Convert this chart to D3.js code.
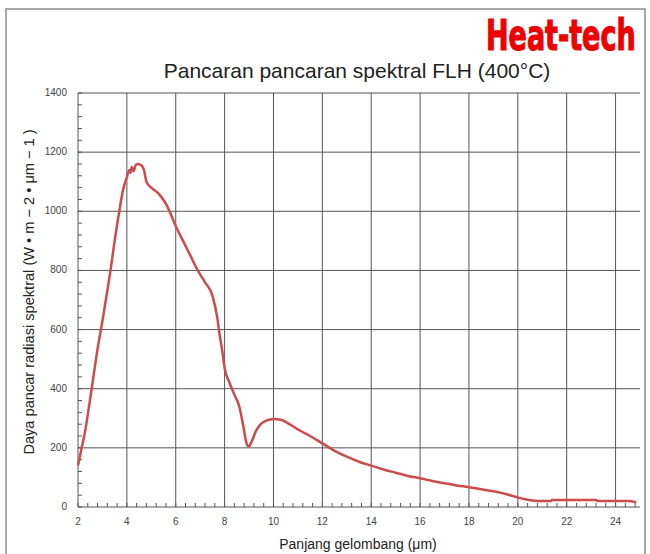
<!DOCTYPE html>
<html>
<head>
<meta charset="utf-8">
<script src="https://cdn.jsdelivr.net/npm/d3@7"></script>
<style>
  body { margin: 0; background: #fff; }
  svg { display: block; font-family: "Liberation Sans", Arial, sans-serif; }
</style>
</head>
<body>
<div id="chart"></div>
<script>
// wavelength (µm) and spectral radiance
const wavelength = [2.0, 2.15, 2.3, 2.45, 2.56, 2.7, 2.85, 2.94, 3.1, 3.33, 3.5, 3.69, 3.85, 4.0,
    4.1, 4.15, 4.2, 4.28, 4.35, 4.45, 4.6, 4.7, 4.8, 5.0, 5.3, 5.6, 5.8, 6.0, 6.3, 6.6, 6.9,
    7.2, 7.5, 7.7, 7.8, 7.9, 8.0, 8.2, 8.4, 8.6, 8.75, 8.9, 9.0, 9.1, 9.3, 9.5, 9.7, 10.0,
    10.3, 10.7, 11.0, 11.5, 12.0, 12.5, 13.0, 13.5, 14.0, 14.5, 15.0, 15.5, 16.0, 16.5, 17.0,
    17.5, 18.0, 18.5, 19.0, 19.5, 20.0, 20.3, 20.6, 21.0, 21.35, 21.4, 23.2, 23.25, 24.5, 24.85];
const radiance = [140, 200, 260, 340, 400, 480, 560, 600, 680, 800, 900, 1000, 1075, 1115,
    1140, 1130, 1150, 1135, 1155, 1160, 1155, 1140, 1100, 1080, 1060, 1025, 990, 950, 900, 850, 800,
    760, 715, 640, 580, 530, 470, 420, 380, 340, 280, 215, 205, 220, 260, 282, 292, 298,
    295, 278, 262, 240, 215, 190, 170, 153, 140, 127, 116, 105, 97, 88, 80,
    73, 67, 60, 53, 44, 32, 26, 22, 20, 20, 24, 24, 20, 20, 16];

const xTicks = [2, 4, 6, 8, 10, 12, 14, 16, 18, 20, 22, 24];
const yTicks = [0, 200, 400, 600, 800, 1000, 1200, 1400];

const chartTitle = "Pancaran pancaran spektral FLH (400°C)";
const xLabel = "Panjang gelombang (μm)";
const yLabel = "Daya pancar radiasi spektral (W • m − 2 • μm − 1 )";

const W = 650, H = 554;
const margin = {top: 93, right: 10, bottom: 47, left: 78};
const width = W - margin.left - margin.right;
const height = H - margin.top - margin.bottom;

const svg = d3.select("#chart").append("svg")
    .attr("width", W)
    .attr("height", H);

// outer frame
svg.append("rect")
    .attr("x", 6).attr("y", 9)
    .attr("width", 639).attr("height", 560)
    .attr("fill", "none")
    .attr("stroke", "#8a8a8a")
    .attr("stroke-width", 1.5);

// logo (narrow font stretched vertically)
svg.append("text")
    .attr("transform", "translate(486,50) scale(1,1.4)")
    .attr("font-family", "'Liberation Sans Narrow', 'DejaVu Sans Condensed', sans-serif")
    .attr("font-weight", "bold")
    .attr("font-size", 30)
    .attr("fill", "#ee0000")
    .attr("stroke", "#ee0000")
    .attr("stroke-width", 0.8)
    .text("Heat-tech");

svg.append("text")
    .attr("x", 357).attr("y", 78)
    .attr("text-anchor", "middle")
    .attr("font-size", 21)
    .attr("fill", "#222")
    .text(chartTitle);

const g = svg.append("g")
    .attr("transform", "translate(" + margin.left + "," + margin.top + ")");

const x = d3.scaleLinear().domain([2, 25]).range([0, width]);
const y = d3.scaleLinear().domain([0, 1400]).range([height, 0]);

// grid
g.selectAll(".hgrid").data(yTicks).enter().append("line")
    .attr("x1", 0).attr("x2", width)
    .attr("y1", d => y(d)).attr("y2", d => y(d))
    .attr("stroke", "#555").attr("stroke-width", 1);

g.selectAll(".vgrid").data(xTicks).enter().append("line")
    .attr("x1", d => x(d)).attr("x2", d => x(d))
    .attr("y1", 0).attr("y2", height)
    .attr("stroke", "#555").attr("stroke-width", 1);

// minor ticks
const yMinor = d3.range(0, 1401, 40);
g.selectAll(".ymin").data(yMinor).enter().append("line")
    .attr("x1", 0).attr("x2", 4)
    .attr("y1", d => y(d)).attr("y2", d => y(d))
    .attr("stroke", "#555");

const xMinor = d3.range(0, 58).map(i => 2 + i * 0.4);
g.selectAll(".xmin").data(xMinor).enter().append("line")
    .attr("x1", d => x(d)).attr("x2", d => x(d))
    .attr("y1", height).attr("y2", height - 4)
    .attr("stroke", "#555");

// tick labels
g.selectAll(".ylab").data(yTicks).enter().append("text")
    .attr("x", -11).attr("y", d => y(d) + 3)
    .attr("text-anchor", "end")
    .attr("font-size", 10)
    .attr("fill", "#444")
    .text(d => d);

g.selectAll(".xlab").data(xTicks).enter().append("text")
    .attr("x", d => x(d)).attr("y", height + 18)
    .attr("text-anchor", "middle")
    .attr("font-size", 10)
    .attr("fill", "#444")
    .text(d => d);

// axis titles
svg.append("text")
    .attr("x", 358).attr("y", 549)
    .attr("text-anchor", "middle")
    .attr("font-size", 14)
    .attr("fill", "#222")
    .text(xLabel);

svg.append("text")
    .attr("transform", "translate(34," + 292 + ") rotate(-90)")
    .attr("text-anchor", "middle")
    .attr("font-size", 14.6)
    .attr("fill", "#222")
    .text(yLabel);

// curve
const line = d3.line()
    .x((d, i) => x(wavelength[i]))
    .y(d => y(d))
    .curve(d3.curveMonotoneX);

g.append("path")
    .datum(radiance)
    .attr("d", line)
    .attr("fill", "none")
    .attr("stroke", "#cc4b4b")
    .attr("stroke-width", 2.5)
    .attr("stroke-linejoin", "round");
</script>
</body>
</html>
